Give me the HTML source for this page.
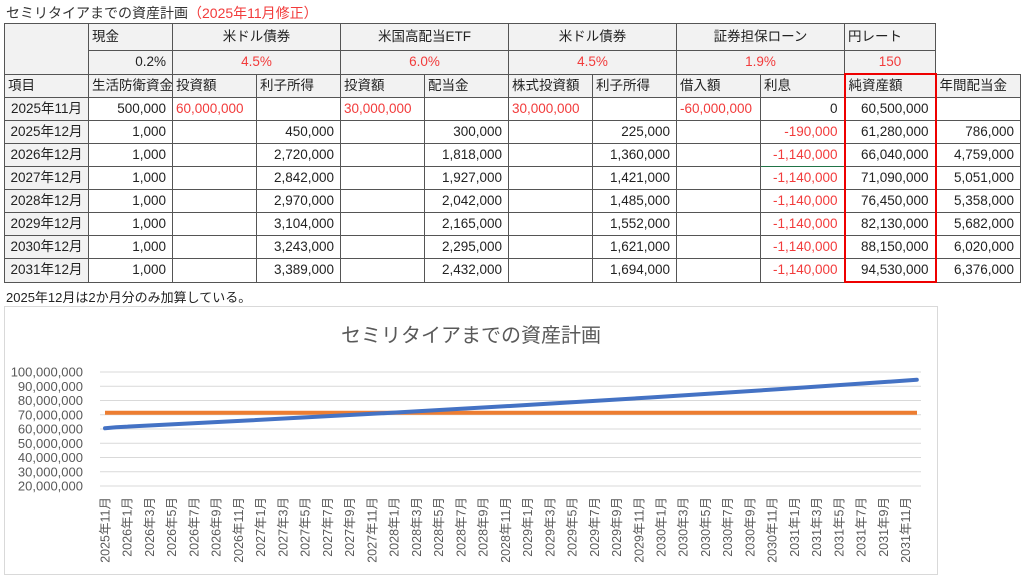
<!DOCTYPE html>
<html><head><meta charset="utf-8">
<style>
body{margin:0;width:1024px;height:580px;background:#fff;font-family:"Liberation Sans","Noto Sans CJK JP",sans-serif;color:#222;position:relative;overflow:hidden}
.t{position:absolute;left:6px;top:3px;font-size:14px;color:#333}
.t span{color:#f23b3b}
table{position:absolute;left:4px;top:23px;width:1016px;border-collapse:collapse;table-layout:fixed;font-size:13.5px}
td{border:1px solid #555;padding:0 3px;height:22px;white-space:nowrap;overflow:hidden;line-height:22px}
.g{background:#f2f2f2}
.r{text-align:right;padding-right:6px}.c{text-align:center}.red{color:#f23b3b}
.n{border:none;background:#fff}
.note{position:absolute;left:6px;top:287px;font-size:13px}
</style></head><body>
<div class="t">セミリタイアまでの資産計画<span>（2025年11月修正）</span></div>
<table>
<colgroup><col style="width:84px"><col style="width:84px"><col style="width:84px"><col style="width:84px"><col style="width:84px"><col style="width:84px"><col style="width:84px"><col style="width:84px"><col style="width:84px"><col style="width:84px"><col style="width:91px"><col style="width:85px"></colgroup>
<tr style="height:27px"><td class="g" rowspan="2"></td><td class="g">現金</td><td class="g c" colspan="2">米ドル債券</td><td class="g c" colspan="2">米国高配当ETF</td><td class="g c" colspan="2">米ドル債券</td><td class="g c" colspan="2">証券担保ローン</td><td class="g">円レート</td><td class="n"></td></tr>
<tr><td class="g r">0.2%</td><td class="g c red" colspan="2">4.5%</td><td class="g c red" colspan="2">6.0%</td><td class="g c red" colspan="2">4.5%</td><td class="g c red" colspan="2">1.9%</td><td class="g c red">150</td><td class="n"></td></tr>
<tr><td class="g">項目</td><td class="g">生活防衛資金</td><td class="g">投資額</td><td class="g">利子所得</td><td class="g">投資額</td><td class="g">配当金</td><td class="g">株式投資額</td><td class="g">利子所得</td><td class="g">借入額</td><td class="g">利息</td><td class="g" style="border:2px solid #e00;border-bottom:1px solid #555">純資産額</td><td class="g">年間配当金</td></tr>
<tr><td class="g c">2025年11月</td><td class="r">500,000</td><td class="red">60,000,000</td><td></td><td class="red">30,000,000</td><td></td><td class="red">30,000,000</td><td></td><td class="red">-60,000,000</td><td class="r">0</td><td class="r" style="border-left:2px solid #e00;border-right:2px solid #e00">60,500,000</td><td></td></tr>
<tr><td class="g c">2025年12月</td><td class="r">1,000</td><td></td><td class="r">450,000</td><td></td><td class="r">300,000</td><td></td><td class="r">225,000</td><td></td><td class="r red">-190,000</td><td class="r" style="border-left:2px solid #e00;border-right:2px solid #e00">61,280,000</td><td class="r">786,000</td></tr>
<tr><td class="g c">2026年12月</td><td class="r">1,000</td><td></td><td class="r">2,720,000</td><td></td><td class="r">1,818,000</td><td></td><td class="r">1,360,000</td><td></td><td class="r red" style="border:1px solid #217346">-1,140,000</td><td class="r" style="border-left:2px solid #e00;border-right:2px solid #e00">66,040,000</td><td class="r">4,759,000</td></tr>
<tr><td class="g c">2027年12月</td><td class="r">1,000</td><td></td><td class="r">2,842,000</td><td></td><td class="r">1,927,000</td><td></td><td class="r">1,421,000</td><td></td><td class="r red">-1,140,000</td><td class="r" style="border-left:2px solid #e00;border-right:2px solid #e00">71,090,000</td><td class="r">5,051,000</td></tr>
<tr><td class="g c">2028年12月</td><td class="r">1,000</td><td></td><td class="r">2,970,000</td><td></td><td class="r">2,042,000</td><td></td><td class="r">1,485,000</td><td></td><td class="r red">-1,140,000</td><td class="r" style="border-left:2px solid #e00;border-right:2px solid #e00">76,450,000</td><td class="r">5,358,000</td></tr>
<tr><td class="g c">2029年12月</td><td class="r">1,000</td><td></td><td class="r">3,104,000</td><td></td><td class="r">2,165,000</td><td></td><td class="r">1,552,000</td><td></td><td class="r red">-1,140,000</td><td class="r" style="border-left:2px solid #e00;border-right:2px solid #e00">82,130,000</td><td class="r">5,682,000</td></tr>
<tr><td class="g c">2030年12月</td><td class="r">1,000</td><td></td><td class="r">3,243,000</td><td></td><td class="r">2,295,000</td><td></td><td class="r">1,621,000</td><td></td><td class="r red">-1,140,000</td><td class="r" style="border-left:2px solid #e00;border-right:2px solid #e00">88,150,000</td><td class="r">6,020,000</td></tr>
<tr><td class="g c">2031年12月</td><td class="r">1,000</td><td></td><td class="r">3,389,000</td><td></td><td class="r">2,432,000</td><td></td><td class="r">1,694,000</td><td></td><td class="r red">-1,140,000</td><td class="r" style="border:2px solid #e00;border-top:1px solid #555">94,530,000</td><td class="r">6,376,000</td></tr>
</table>
<div class="note">2025年12月は2か月分のみ加算している。</div>
<svg id="ch" style="position:absolute;left:0;top:0" width="1024" height="580"></svg>
<script>
var s='<rect x="4.5" y="306.5" width="933" height="268" fill="#fff" stroke="#d9d9d9"/>';
s+='<text x="471" y="342" text-anchor="middle" font-size="20" fill="#595959">セミリタイアまでの資産計画</text>';
function Y(v){return 372+(100-v)*1.425;}
for(var v=20;v<=100;v+=10){var y=Y(v);s+='<line x1="100" x2="921" y1="'+y+'" y2="'+y+'" stroke="#d9d9d9"/>';
s+='<text x="83" y="'+(y+4.5)+'" text-anchor="end" font-size="13" fill="#595959">'+v+',000,000</text>';}
function X(m){return 105+m*11.12;}
var pts=[[0,60.5],[1,61.28],[13,66.04],[25,71.09],[37,76.45],[49,82.13],[61,88.15],[73,94.53]];
var d='';pts.forEach(function(p,i){d+=(i?'L':'M')+X(p[0]).toFixed(1)+' '+Y(p[1]).toFixed(1);});
s+='<line x1="105" x2="917" y1="412.7" y2="412.7" stroke="#ed7d31" stroke-width="4"/>';
s+='<path d="'+d+'" fill="none" stroke="#4472c4" stroke-width="4" stroke-linecap="round"/>';
for(var m=0;m<=72;m+=2){var yr=2025+Math.floor((m+10)/12),mo=(m+10)%12+1;var x=X(m)+4.5;
s+='<text transform="translate('+x.toFixed(1)+',497) rotate(-90)" text-anchor="end" font-size="12.5" fill="#595959">'+yr+'年'+mo+'月</text>';}
document.getElementById('ch').innerHTML=s;
</script>
</body></html>
